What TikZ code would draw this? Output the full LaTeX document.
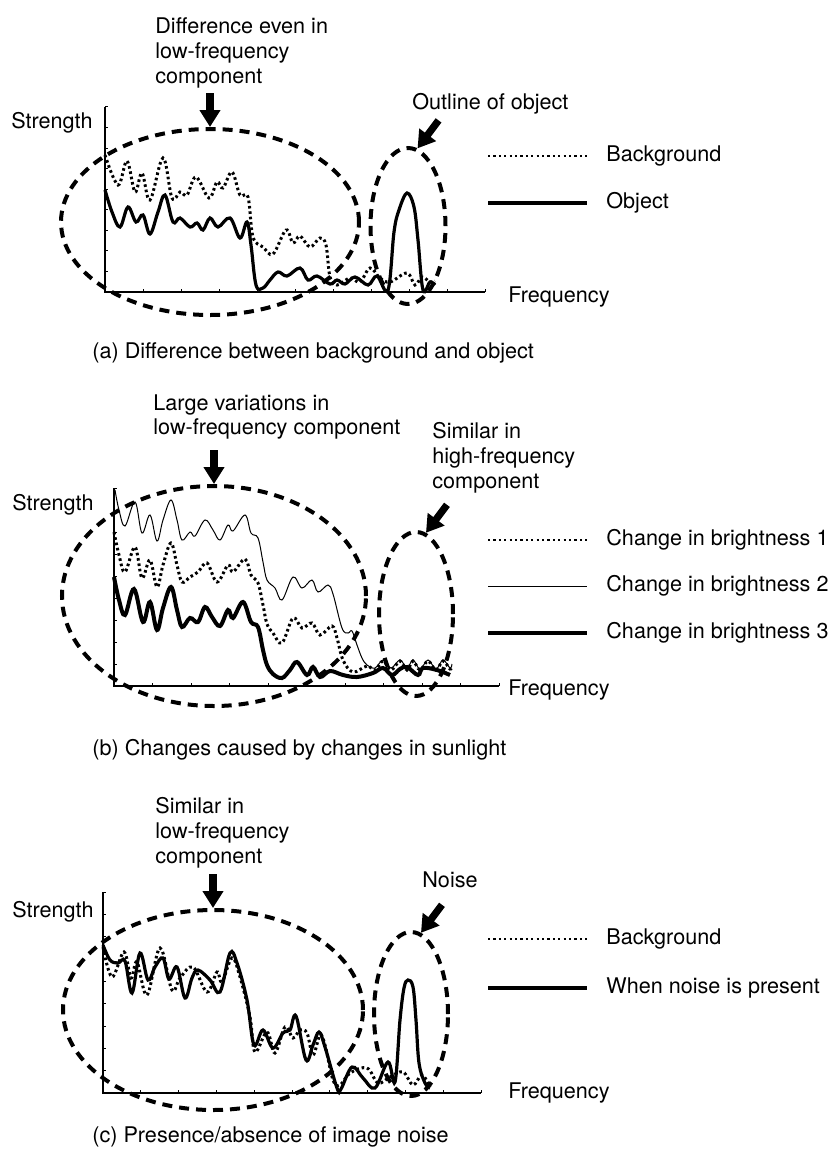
\documentclass[tikz,border=0pt]{standalone}
\usepackage{fontspec}
\setmainfont{TeX Gyre Heros}
\usetikzlibrary{arrows.meta,shapes.geometric}
\begin{document}
\begin{tikzpicture}[x=0.5pt,y=-0.5pt,
  txt/.style={inner sep=0pt,font=\fontsize{10.8}{12.5}\selectfont},
  lbl/.style={txt,align=left,anchor=north west},
  one/.style={txt,anchor=base west},
  ring/.style={draw,ellipse,inner sep=0pt,line width=2pt,dash pattern=on 5pt off 3.5pt},
  bigarrow/.style={line width=3.6pt,-{Triangle[width=10pt,length=8.5pt]}},
  axis/.style={line width=0.6pt},
  tick/.style={line width=0.5pt},
  dotcurve/.style={line width=1.5pt,dash pattern=on 1.3pt off 1.4pt},
  legdot/.style={line width=1.3pt,dash pattern=on 1.1pt off 1.6pt},
  solidcurve/.style={line width=1.6pt},
  thincurve/.style={line width=0.5pt},
  thickcurve/.style={line width=2pt},
  sm/.style={smooth,tension=0.6},
]
\useasboundingbox (0,0) rectangle (828,1158);

% ================= (a) =================
\node[lbl] (la1) at (155,17) {Difference even in\\low-frequency\\component};
\node[one] (la2) at (412,109) {Outline of object};
\node[one] (sa) at (11,128) {Strength};
\node[one] (fa) at (508,302) {Frequency};
\node[one] (ca) at (92,358) {(a) Difference between background and object};
% axes
\draw[axis] (105,107) -- (105,292) -- (485,292);
\foreach \k in {0,...,10} \draw[tick] (105+38*\k,292) -- (105+38*\k,289);
\foreach \k in {0,...,9} \draw[tick] (105,292-20.56*\k) -- (108,292-20.56*\k);
% curves
\draw[dotcurve] plot[sm] coordinates {(105,155) (118,185) (127,161) (135,192) (142,173) (150,200) (163,158) (172,198) (180,192) (187,195) (196,177) (209,198) (217,182) (223,188) (232,172) (240,195) (248,197) (253,237) (263,247) (273,254) (286,230) (293,243) (300,236) (310,247) (320,238) (326,245) (330,277) (337,285) (350,278) (360,282) (370,268) (380,278) (390,282) (407,273) (415,285) (422,277) (430,282) (435,281)};
\draw[solidcurve] plot[sm] coordinates {(105,190) (112,212) (120,227) (128,207) (136,222) (143,215) (150,234) (158,212) (165,195) (173,222) (180,218) (190,227) (197,223) (203,230) (210,218) (218,227) (230,218) (240,238) (247,222) (251,245) (256,285) (263,288) (270,280) (278,272) (287,276) (300,268) (308,280) (317,276) (330,284) (337,280) (345,284) (355,277) (368,285) (377,276) (388,290) (394,232) (399,210) (407,193) (414,207) (418,240) (423,290) (430,282) (435,285)};
% rings and arrows
\node[ring,minimum width=149pt,minimum height=93pt] (ea) at (210,222) {};
\node[ring,minimum width=37.5pt,minimum height=78pt] (oa) at (408,226) {};
\coordinate (ta) at ([yshift=17pt]ea.north);
\draw[bigarrow] (ta) -- (ea.north);
\coordinate (ua) at ([shift={(10.5pt,14pt)}]oa.83);
\draw[bigarrow] (ua) -- (oa.83);
% legend
\draw[legdot] (488,156) -- (587,156);
\node[one] (ga1) at (606,161) {Background};
\draw[solidcurve] (488,203) -- (587,203);
\node[one] (ga2) at (606,208) {Object};

% ================= (b) =================
\node[lbl,font=\fontsize{10.8}{12}\selectfont] (lb1) at (153,394) {Large variations in\\low-frequency component};
\node[lbl] (lb2) at (432,422) {Similar in\\high-frequency\\component};
\node[one] (sb) at (12,510) {Strength};
\node[one] (fb) at (508,695) {Frequency};
\node[one] (cb) at (92,755) {(b) Changes caused by changes in sunlight};
\draw[axis] (114,488) -- (114,686) -- (499,686);
\foreach \k in {0,...,10} \draw[tick] (114+38.5*\k,686) -- (114+38.5*\k,683);
\foreach \k in {0,...,9} \draw[tick] (114,686-22*\k) -- (117,686-22*\k);
\draw[thincurve] plot[sm] coordinates {(115,490) (119,510) (125,526) (135,502) (142,533) (150,515) (157,541) (163,520) (171,500) (177,520) (182,540) (190,532) (195,536) (205,520) (213,530) (220,540) (228,525) (233,531) (245,515) (251,533) (258,538) (263,562) (267,580) (275,588) (282,600) (293,577) (302,588) (312,580) (318,592) (328,585) (333,594) (342,628) (348,633) (352,631) (357,645) (362,658) (367,665) (375,668) (383,660) (391,668) (400,660) (407,668) (413,660) (420,669) (428,660) (436,669) (443,660) (450,668) (452,664)};
\draw[dotcurve] plot[sm] coordinates {(114,532) (119,555) (125,572) (135,547) (142,578) (150,560) (157,587) (163,565) (171,543) (177,565) (182,582) (190,577) (198,572) (207,563) (217,582) (228,565) (233,572) (245,559) (251,575) (258,583) (263,605) (267,624) (273,633) (282,643) (293,618) (302,628) (312,623) (320,635) (332,626) (337,638) (343,660) (353,672) (367,666) (375,670) (383,661) (391,670) (400,661) (407,670) (413,661) (420,670) (428,661) (436,670) (443,661) (450,669) (452,666)};
\draw[thickcurve] plot[sm] coordinates {(114,577) (119,600) (125,615) (134,589) (143,622) (150,602) (157,630) (163,608) (171,587) (177,610) (182,627) (190,618) (198,622) (205,607) (212,617) (220,626) (228,610) (233,618) (243,602) (251,622) (258,627) (263,650) (267,665) (273,674) (282,678) (290,670) (297,662) (307,675) (313,667) (320,677) (330,671) (343,675) (357,677) (373,673) (383,668) (392,675) (400,669) (407,667) (418,675) (423,668) (437,670) (450,675)};
\node[ring,minimum width=152pt,minimum height=110pt] (eb) at (214,596) {};
\node[ring,minimum width=37pt,minimum height=82pt] (ob) at (416,614) {};
\coordinate (tb) at ([yshift=17pt]eb.north);
\draw[bigarrow] (tb) -- (eb.north);
\coordinate (ub) at ([shift={(10.5pt,14pt)}]ob.83);
\draw[bigarrow] (ub) -- (ob.83);
\draw[legdot] (488,540) -- (587,540);
\node[one] (gb1) at (606,545) {Change in brightness 1};
\draw[thincurve] (488,586) -- (587,586);
\node[one] (gb2) at (606,591) {Change in brightness 2};
\draw[thickcurve] (488,633) -- (587,633);
\node[one] (gb3) at (606,638) {Change in brightness 3};

% ================= (c) =================
\node[lbl] (lc1) at (155,797) {Similar in\\low-frequency\\component};
\node[one] (lc2) at (422,887) {Noise};
\node[one] (sc) at (12,917) {Strength};
\node[one] (fc) at (508,1098) {Frequency};
\node[one] (cc) at (92,1142) {(c) Presence/absence of image noise};
\draw[axis] (103,892) -- (103,1093) -- (481,1093);
\foreach \k in {0,...,10} \draw[tick] (103+37.8*\k,1093) -- (103+37.8*\k,1090);
\foreach \k in {0,...,9} \draw[tick] (103,1093-22.33*\k) -- (106,1093-22.33*\k);
\draw[dotcurve] plot[sm] coordinates {(103,947) (112,977) (124,952) (131,978) (137,962) (147,995) (160,948) (172,990) (180,978) (193,967) (207,992) (217,972) (222,982) (232,958) (240,977) (250,1017) (255,1052) (267,1032) (275,1053) (285,1027) (293,1038) (300,1030) (307,1033) (313,1055) (320,1035) (325,1045) (333,1080) (340,1085) (350,1073) (367,1068) (378,1083) (390,1077) (403,1072) (413,1085) (422,1075) (430,1087)};
\draw[solidcurve] plot[sm] coordinates {(103,945) (110,960) (118,963) (125,961) (132,993) (140,953) (148,980) (155,967) (163,958) (169,979) (177,967) (185,998) (192,978) (198,970) (210,980) (220,992) (230,953) (237,963) (247,1000) (254,1045) (263,1030) (273,1048) (283,1033) (290,1030) (296,1016) (306,1060) (313,1045) (319,1032) (325,1047) (337,1088) (341,1089) (352,1067) (363,1078) (375,1088) (388,1062) (395,1082) (400,1020) (404,988) (408,980) (413,987) (416,1020) (419,1063) (425,1083) (430,1088)};
\node[ring,minimum width=150pt,minimum height=100pt] (ec) at (213,1010) {};
\node[ring,minimum width=37pt,minimum height=82pt] (oc) at (411,1014) {};
\coordinate (tc) at ([yshift=17pt]ec.north);
\draw[bigarrow] (tc) -- (ec.north);
\coordinate (uc) at ([shift={(10.5pt,14pt)}]oc.83);
\draw[bigarrow] (uc) -- (oc.83);
\draw[legdot] (488,939) -- (587,939);
\node[one] (gc1) at (606,944) {Background};
\draw[solidcurve] (488,988) -- (587,988);
\node[one] (gc2) at (606,993) {When noise is present};
\end{tikzpicture}
\end{document}
